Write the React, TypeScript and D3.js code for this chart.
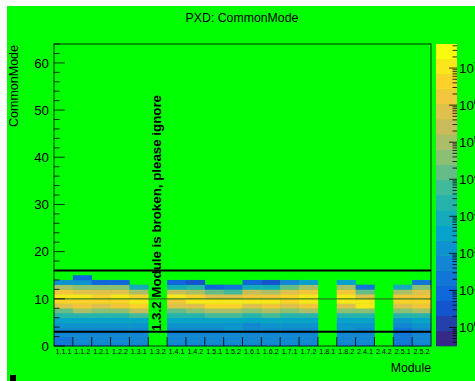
import React from "react";
import * as d3 from "d3";

const modules = [
  "1.1.1", "1.1.2", "1.2.1", "1.2.2", "1.3.1", "1.3.2", "1.4.1", "1.4.2", "1.5.1", "1.5.2",
  "1.6.1", "1.6.2", "1.7.1", "1.7.2", "1.8.1", "1.8.2", "2.4.1", "2.4.2", "2.5.1", "2.5.2",
];

// log10(entries) for each CommonMode bin (0, 1, 2, ...) per module
const logCounts: number[][] = [
  [1.33, 1.33, 1.74, 1.74, 2.15, 2.56, 3.37, 4.18, 5.81, 6.63, 7.03, 6.22, 5.0, 2.15],
  [1.74, 1.74, 1.74, 1.74, 2.15, 2.56, 3.37, 5.0, 6.22, 6.63, 7.03, 5.81, 4.59, 2.15, 0.93],
  [1.74, 1.74, 1.74, 1.74, 2.15, 2.56, 3.37, 4.59, 5.81, 6.63, 6.63, 5.81, 4.59, 0.93],
  [1.74, 1.74, 1.74, 1.74, 2.15, 2.56, 3.37, 4.59, 6.22, 6.63, 7.03, 5.81, 4.59, 0.93],
  [1.74, 1.74, 1.74, 1.74, 2.15, 2.56, 3.78, 5.41, 6.63, 7.03, 6.63, 5.0, 2.96],
  [],
  [1.74, 1.74, 1.74, 1.74, 2.15, 2.56, 3.37, 4.18, 5.81, 6.22, 7.03, 5.41, 2.96, 0.93],
  [1.74, 1.74, 1.74, 1.74, 2.15, 2.56, 3.37, 4.59, 5.81, 7.03, 6.63, 5.0, 3.37, 0.52],
  [1.74, 1.74, 1.74, 1.74, 2.15, 2.56, 3.78, 5.0, 6.63, 7.03, 5.81, 4.18, 0.93],
  [1.74, 1.74, 1.74, 2.15, 2.15, 2.56, 3.78, 5.0, 6.63, 7.03, 5.81, 3.78, 1.33],
  [1.74, 1.74, 1.74, 1.74, 1.74, 2.56, 3.37, 4.59, 5.81, 7.03, 6.22, 5.41, 2.96, 0.93],
  [1.74, 1.74, 1.74, 1.74, 2.15, 2.56, 3.78, 5.0, 6.22, 7.03, 6.22, 5.0, 2.96, 0.52],
  [1.74, 1.74, 1.74, 1.74, 2.15, 2.56, 3.37, 4.59, 5.81, 6.63, 6.63, 5.81, 4.18, 1.74],
  [1.74, 1.74, 1.74, 1.74, 2.15, 2.56, 3.37, 5.0, 6.22, 7.03, 7.03, 6.22, 5.0, 2.56],
  [],
  [1.74, 1.74, 1.74, 2.15, 2.15, 2.56, 3.37, 4.59, 5.81, 7.03, 7.03, 6.22, 5.0, 2.56],
  [1.74, 1.74, 1.74, 1.74, 2.15, 2.56, 3.37, 4.59, 7.03, 7.03, 5.81, 4.18, 1.33],
  [],
  [1.33, 1.33, 1.33, 1.33, 1.74, 2.15, 3.37, 4.59, 5.81, 6.63, 6.22, 5.0, 2.96],
  [1.74, 1.74, 1.74, 1.74, 2.15, 2.56, 3.37, 5.0, 6.22, 6.63, 6.22, 5.81, 4.59, 1.33],
];

const limitLines = [3, 16];
const meanLine = 10;
const yTicks = [0, 10, 20, 30, 40, 50, 60];
const zDecades = [0, 1, 2, 3, 4, 5, 6, 7];
const brokenNote = "1.3.2 Module is broken, please ignore";

// ROOT kBird palette
const birdStops = [0, 0.125, 0.25, 0.375, 0.5, 0.625, 0.75, 0.875, 1];
const birdColors = [
  "#352a87", "#0f5cdd", "#1481d6", "#06a4ca", "#2eb7a4",
  "#87bf77", "#d1bb59", "#fec832", "#f9fb0e",
];

const W = 475;
const H = 381;
const font = "'Liberation Sans', Arial, Helvetica, sans-serif";

export default function App() {
  const left = 54, right = 431, top = 44, bottom = 346;
  const nLevels = 20;
  const zMin = -0.5, zMax = 7.65;

  const x = d3.scaleBand().domain(modules).range([left, right]);
  const y = d3.scaleLinear().domain([0, 64]).range([bottom, top]);
  const bird = d3.scaleLinear<string>().domain(birdStops).range(birdColors).interpolate(d3.interpolateRgb);
  const levelColor = (i: number) => bird(i / (nLevels - 1));
  const levelOf = (v: number) =>
    Math.max(0, Math.min(nLevels - 1, Math.floor(((v - zMin) / (zMax - zMin)) * nLevels)));

  const zScale = d3.scaleLinear().domain([zMin, zMax]).range([bottom, top]);
  const barL = 436, barR = 457;

  const cells: { key: string; x: number; y: number; h: number; fill: string }[] = [];
  logCounts.forEach((col, mi) => {
    col.forEach((v, bin) => {
      cells.push({
        key: `${mi}-${bin}`,
        x: x(modules[mi]) as number,
        y: y(bin + 1),
        h: y(bin) - y(bin + 1),
        fill: levelColor(levelOf(v)),
      });
    });
  });

  const yMinor = d3.range(0, 65, 2).filter((v) => v % 10 !== 0);
  const zMinor: number[] = [];
  for (let d = -1; d <= 7; d++) {
    for (let m = 2; m <= 9; m++) {
      const lv = d + Math.log10(m);
      if (lv > zMin && lv < zMax) zMinor.push(lv);
    }
  }

  const noteX = 161;
  const noteY = 331;

  return (
    <svg width={W} height={H} style={{ position: "absolute", left: 0, top: 0 }} fontFamily={font}>
      <rect x={0} y={0} width={W} height={H} fill="#ffffff" />
      <rect x={7} y={6} width={W - 7} height={H - 6} fill="#00ff00" />

      <text x={242} y={22} textAnchor="middle" fontSize={12.3} fill="#000">
        PXD: CommonMode
      </text>

      {cells.map((c) => (
        <rect key={c.key} x={c.x} y={c.y} width={x.bandwidth() + 0.3} height={c.h + 0.3} fill={c.fill} />
      ))}

      {/* limit lines */}
      {limitLines.map((v) => (
        <line key={v} x1={left} x2={right} y1={y(v)} y2={y(v)} stroke="#000" strokeWidth={2} />
      ))}
      <line x1={left} x2={right} y1={y(meanLine)} y2={y(meanLine)} stroke="#2b6a12" strokeWidth={1.2} opacity={0.85} />

      {/* frame */}
      <rect x={left} y={top} width={right - left} height={bottom - top} fill="none" stroke="#000" strokeWidth={0.8} />

      {/* y axis */}
      {yTicks.map((t) => (
        <g key={t}>
          <line x1={left} x2={left + 11} y1={y(t)} y2={y(t)} stroke="#000" strokeWidth={0.8} />
          <text x={49} y={y(t)} dy="0.36em" textAnchor="end" fontSize={13.3} fill="#000">
            {t}
          </text>
        </g>
      ))}
      {yMinor.map((t) => (
        <line key={t} x1={left} x2={left + 5.6} y1={y(t)} y2={y(t)} stroke="#000" strokeWidth={0.8} />
      ))}
      <text
        transform={`translate(18,${top + 1}) rotate(-90)`}
        textAnchor="end"
        fontSize={12.5}
        fill="#000"
      >
        CommonMode
      </text>

      {/* x axis */}
      {modules.map((m, i) => (
        <g key={m}>
          {i > 0 && (
            <line
              x1={x(m) as number}
              x2={x(m) as number}
              y1={bottom}
              y2={bottom - 9}
              stroke="#000"
              strokeWidth={0.8}
            />
          )}
          <text x={(x(m) as number) + x.bandwidth() / 2} y={354} textAnchor="middle" fontSize={7.2} fill="#000">
            {m}
          </text>
        </g>
      ))}
      <text x={right} y={372} textAnchor="end" fontSize={12.3} fill="#000">
        Module
      </text>

      {/* note */}
      <text
        transform={`translate(${noteX},${noteY}) rotate(-90)`}
        fontSize={13}
        fontWeight="bold"
        fill="#000"
        textLength={236}
        lengthAdjust="spacingAndGlyphs"
      >
        {brokenNote}
      </text>

      {/* palette */}
      {d3.range(nLevels).map((i) => {
        const z0 = zMin + (i * (zMax - zMin)) / nLevels;
        const z1 = zMin + ((i + 1) * (zMax - zMin)) / nLevels;
        return (
          <rect
            key={i}
            x={barL}
            y={zScale(z1)}
            width={barR - barL}
            height={zScale(z0) - zScale(z1) + 0.3}
            fill={levelColor(i)}
          />
        );
      })}
      {zMinor.map((v) => (
        <line key={v} x1={barR - 4.5} x2={barR} y1={zScale(v)} y2={zScale(v)} stroke="#000" strokeWidth={0.8} />
      ))}
      {zDecades.map((d) => (
        <g key={d}>
          <line x1={barR - 8} x2={barR} y1={zScale(d)} y2={zScale(d)} stroke="#000" strokeWidth={0.8} />
          <text x={459} y={zScale(d)} dy="0.36em" fontSize={13.3} fill="#000">
            10
            <tspan dy={-5} fontSize={9}>
              {d}
            </tspan>
          </text>
        </g>
      ))}

      <rect x={10} y={375} width={6} height={6} fill="#000" />
    </svg>
  );
}
